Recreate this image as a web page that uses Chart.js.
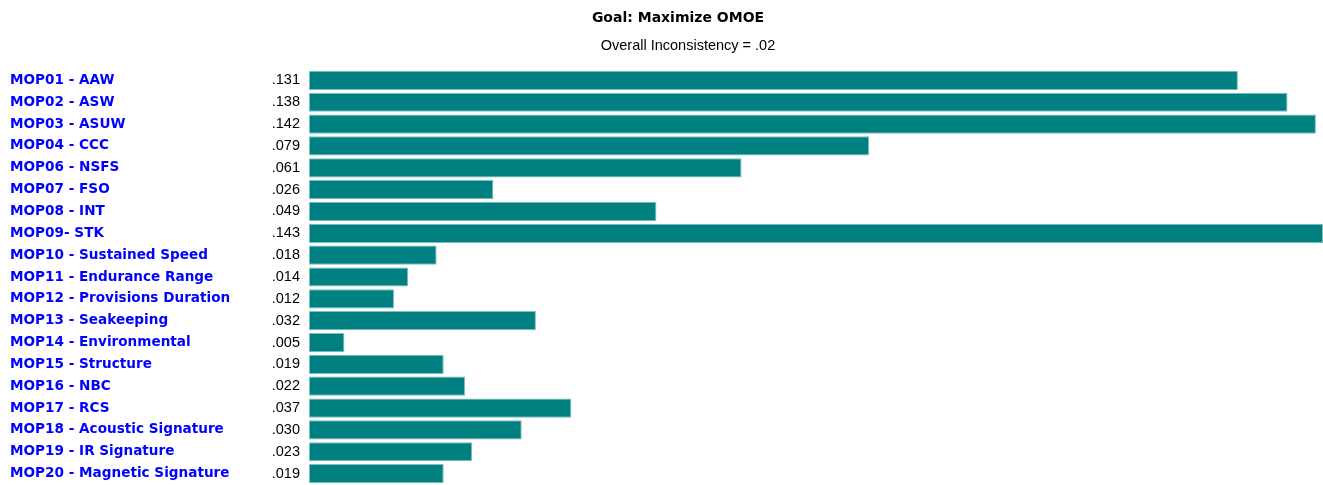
<!DOCTYPE html>
<html>
<head>
<meta charset="utf-8">
<script src="https://cdn.jsdelivr.net/npm/chart.js@4"></script>
<style>
html,body{margin:0;padding:0;background:#ffffff;}
#wrap{width:1323px;height:485px;position:relative;}
</style>
</head>
<body>
<div id="wrap"><canvas id="c"></canvas></div>
<script>
const categories = [
  "MOP01 - AAW","MOP02 - ASW","MOP03 - ASUW","MOP04 - CCC","MOP06 - NSFS",
  "MOP07 - FSO","MOP08 - INT","MOP09- STK","MOP10 - Sustained Speed",
  "MOP11 - Endurance Range","MOP12 - Provisions Duration","MOP13 - Seakeeping",
  "MOP14 - Environmental","MOP15 - Structure","MOP16 - NBC","MOP17 - RCS",
  "MOP18 - Acoustic Signature","MOP19 - IR Signature","MOP20 - Magnetic Signature"
];
const weights = [0.131,0.138,0.142,0.079,0.061,0.026,0.049,0.143,0.018,0.014,0.012,0.032,0.005,0.019,0.022,0.037,0.030,0.023,0.019];
const titleText = "Goal: Maximize OMOE";
const subtitleText = "Overall Inconsistency = .02";

function fmt(v){ return v.toFixed(3).replace(/^0/, ""); }

const labelPlugin = {
  id: "labelPlugin",
  afterDraw(chart){
    const ctx = chart.ctx;
    const ys = chart.scales.y;
    ctx.save();
    // titles
    ctx.fillStyle = "#000000";
    ctx.textAlign = "center";
    ctx.textBaseline = "middle";
    ctx.font = "bold 14px 'DejaVu Sans', sans-serif";
    ctx.fillText(titleText, 678, 18.5);
    ctx.font = "14.5px 'Liberation Sans', Arial, sans-serif";
    ctx.fillText(subtitleText, 688, 46);
    // category labels and values
    categories.forEach((c, i) => {
      const y = ys.getPixelForValue(i);
      ctx.font = "bold 13.6px 'DejaVu Sans', sans-serif";
      ctx.fillStyle = "#0000ff";
      ctx.textAlign = "left";
      ctx.fillText(c, 10, y);
      ctx.font = "14.5px 'Liberation Sans', Arial, sans-serif";
      ctx.fillStyle = "#000000";
      ctx.textAlign = "right";
      ctx.fillText(fmt(weights[i]), 300, y);
    });
    ctx.restore();
  }
};

new Chart(document.getElementById("c"), {
  type: "bar",
  data: {
    labels: categories,
    datasets: [{
      data: weights,
      backgroundColor: "#008080",
      borderColor: "#7dbdbd",
      borderWidth: 1,
      borderSkipped: false,
      categoryPercentage: 0.88,
      barPercentage: 1.0
    }]
  },
  options: {
    indexAxis: "y",
    responsive: true,
    maintainAspectRatio: false,
    animation: false,
    layout: { padding: { left: 309, right: 0, top: 69.5, bottom: 0.5 } },
    plugins: { legend: { display: false }, tooltip: { enabled: false }, title: { display: false } },
    scales: {
      x: { display: false, min: 0, max: 0.143, grid: { display: false } },
      y: { display: false, grid: { display: false } }
    }
  },
  plugins: [labelPlugin]
});
</script>
</body>
</html>
